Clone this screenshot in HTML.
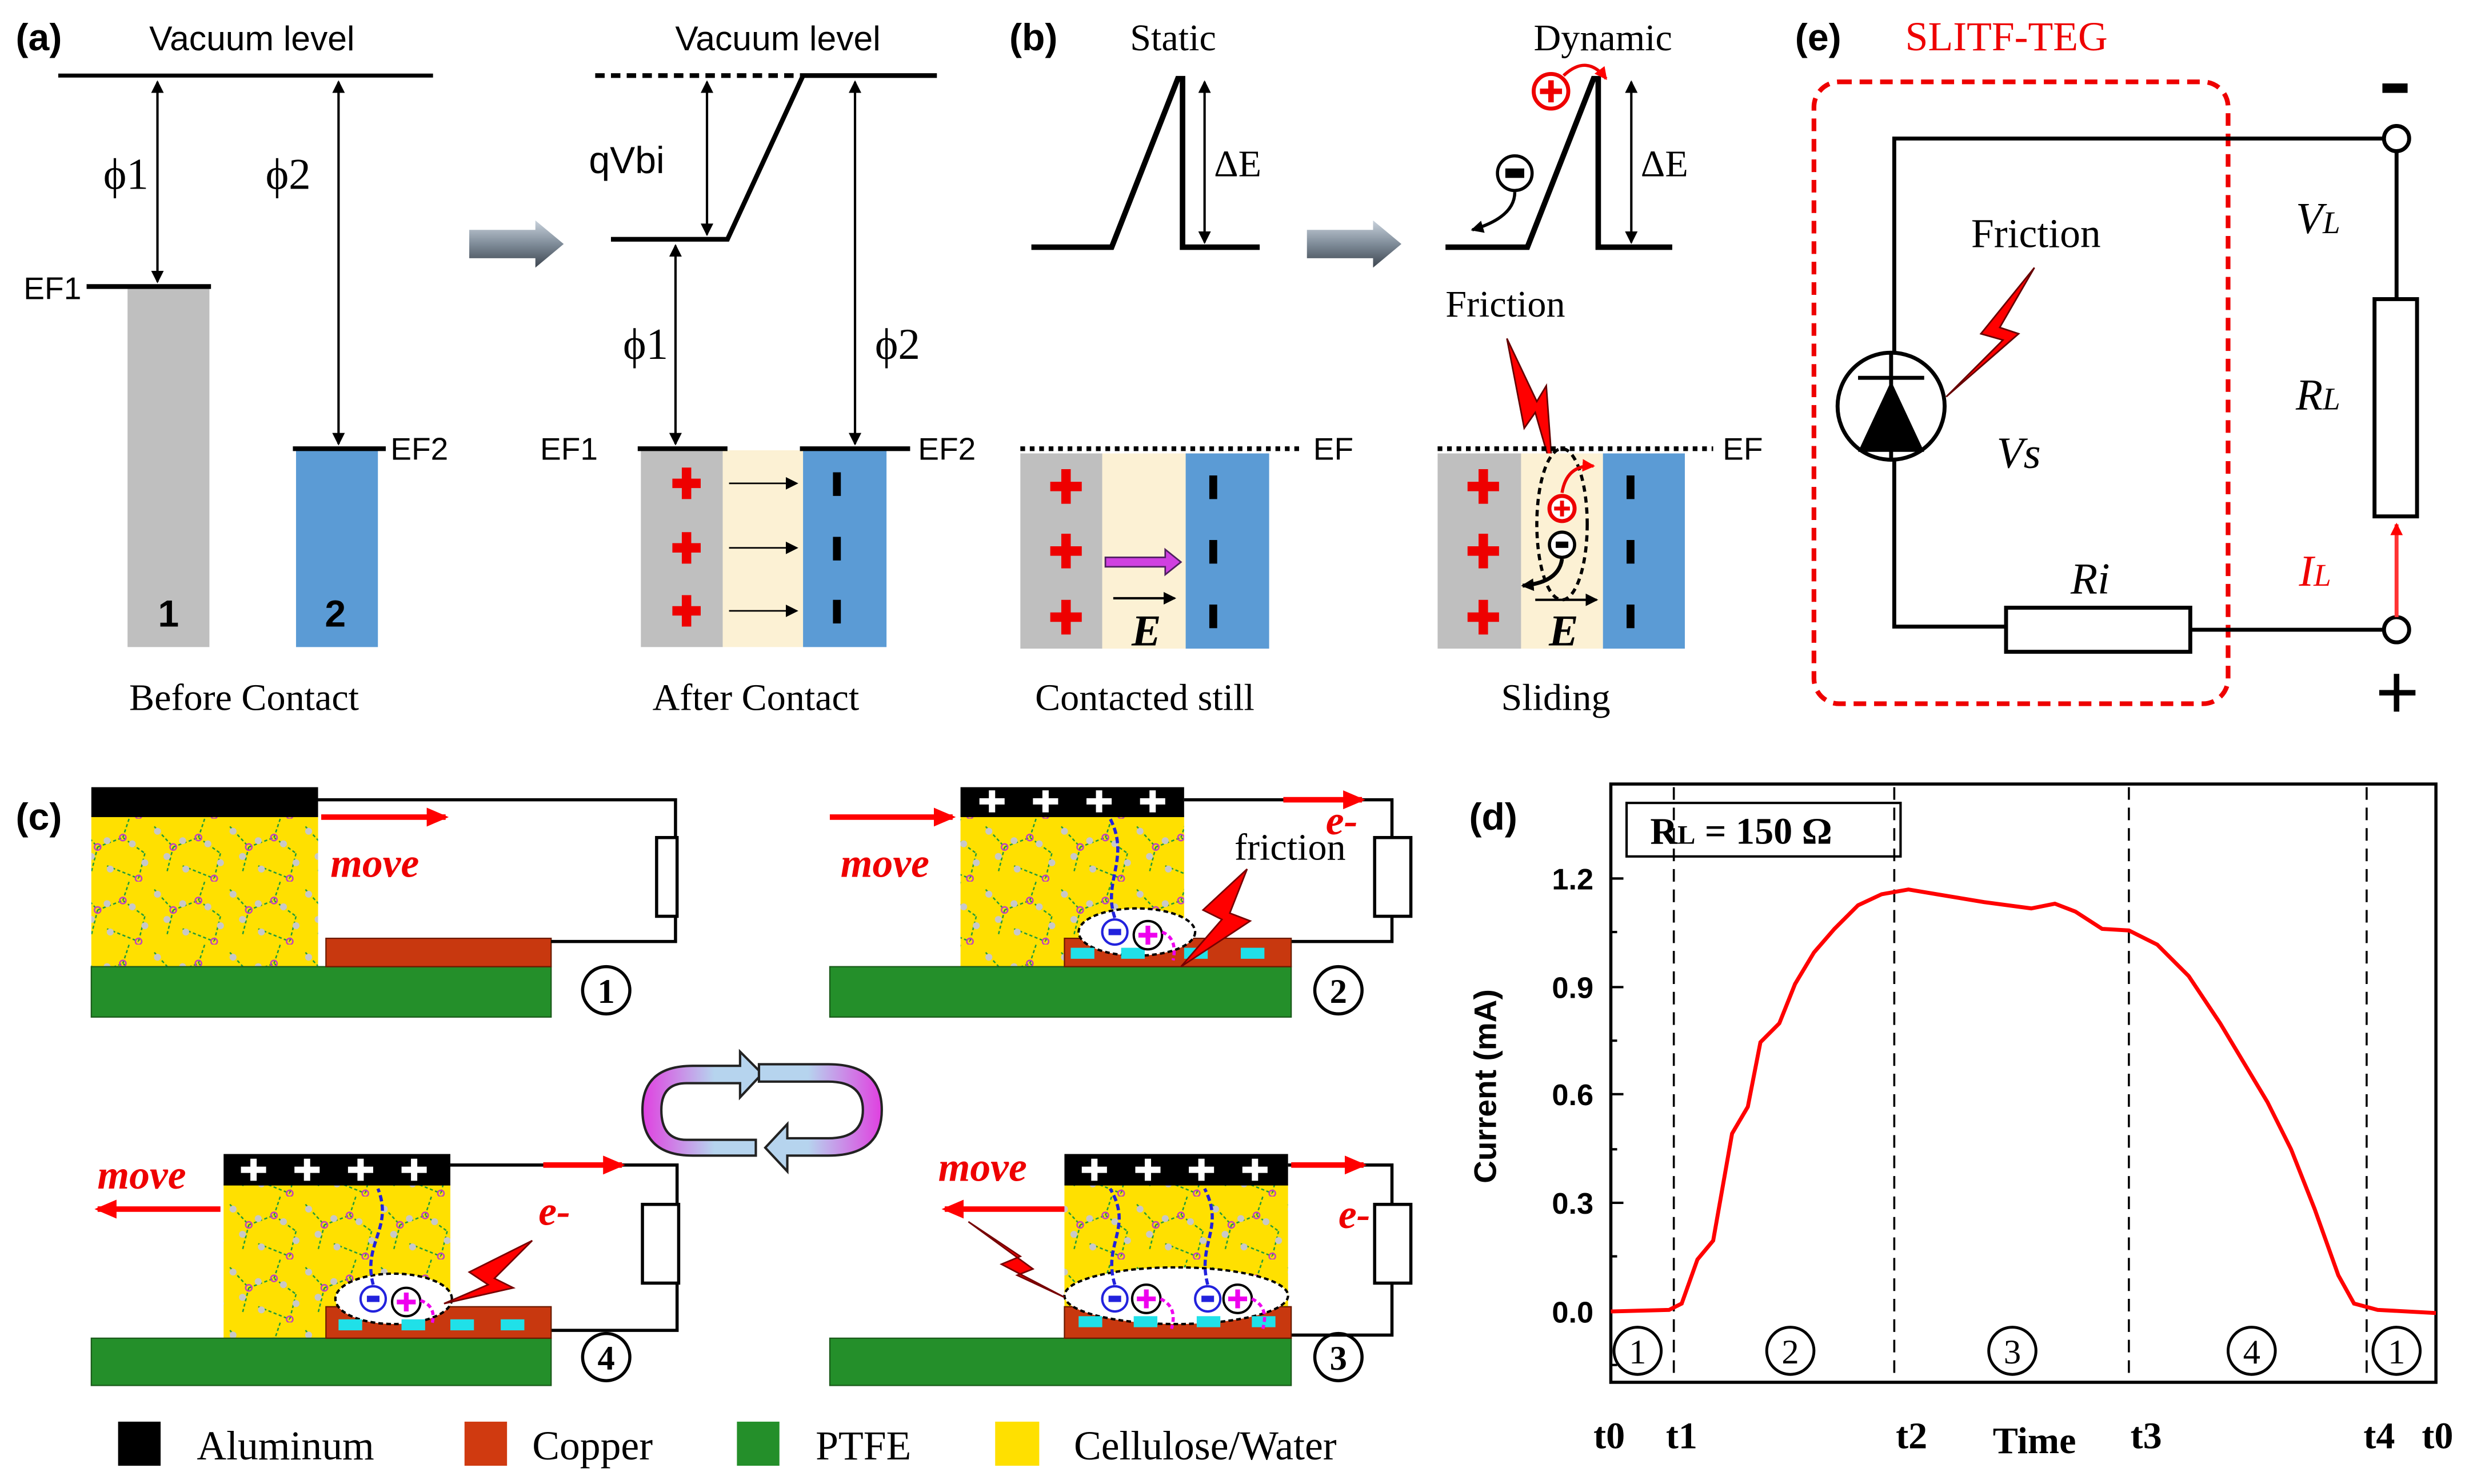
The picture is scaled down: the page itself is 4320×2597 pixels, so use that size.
<!DOCTYPE html>
<html><head><meta charset="utf-8"><style>html,body{margin:0;padding:0;background:#fff}svg{display:block}</style></head><body>
<svg xmlns="http://www.w3.org/2000/svg" width="4320" height="2597" viewBox="0 0 1568 942.6" preserveAspectRatio="none">
<defs>
<marker id="ah" markerWidth="8" markerHeight="8" refX="7" refY="4" orient="auto-start-reverse" markerUnits="userSpaceOnUse"><path d="M0,0L8,4L0,8z" fill="#000"/></marker>
<marker id="ahr" markerWidth="14" markerHeight="12" refX="12" refY="6" orient="auto" markerUnits="userSpaceOnUse"><path d="M0,0L14,6L0,12z" fill="#f00"/></marker>
<marker id="ahs" markerWidth="8" markerHeight="8" refX="7" refY="4" orient="auto" markerUnits="userSpaceOnUse"><path d="M0,0L8,4L0,8z" fill="#f00"/></marker>
<linearGradient id="ga" x1="0" y1="0" x2="0" y2="1"><stop offset="0" stop-color="#c9d2dc"/><stop offset="0.5" stop-color="#7f8c99"/><stop offset="1" stop-color="#3e4650"/></linearGradient>
<linearGradient id="gc" x1="0" y1="0" x2="1" y2="0"><stop offset="0" stop-color="#e040e0"/><stop offset="0.6" stop-color="#b6d4ee"/><stop offset="1" stop-color="#b6d4ee"/></linearGradient>
<linearGradient id="gc2" x1="1" y1="0" x2="0" y2="0"><stop offset="0" stop-color="#e040e0"/><stop offset="0.6" stop-color="#b6d4ee"/><stop offset="1" stop-color="#b6d4ee"/></linearGradient>
<pattern id="mol" width="48" height="40" patternUnits="userSpaceOnUse">
<rect width="48" height="40" fill="#ffe000"/>
<path d="M2,5 L14,18 L10,34 M14,18 L30,12 L44,22 M30,12 L34,0 M44,22 L40,38 M20,30 L40,38" fill="none" stroke="#1a9a3a" stroke-width="0.9" stroke-dasharray="2,1.5"/>
<circle cx="14" cy="18" r="2" fill="none" stroke="#c040c0" stroke-width="0.9"/><circle cx="30" cy="12" r="2" fill="none" stroke="#c040c0" stroke-width="0.9"/><circle cx="40" cy="38" r="2" fill="none" stroke="#c040c0" stroke-width="0.9"/>
<circle cx="10" cy="24" r="2.2" fill="#c8c8c8"/><circle cx="20" cy="14" r="2.2" fill="#c8c8c8"/><circle cx="36" cy="16" r="2.2" fill="#c8c8c8"/><circle cx="44" cy="28" r="2.2" fill="#c8c8c8"/><circle cx="22" cy="32" r="2.2" fill="#c8c8c8"/><circle cx="4" cy="8" r="2.2" fill="#c8c8c8"/>
</pattern>
</defs>
<g font-family="Liberation Serif, serif" fill="#000">
<!-- (a) -->
<text x="10" y="32" font-family="Liberation Sans, sans-serif" font-weight="bold" font-size="24">(a)</text>
<text x="160" y="32" font-family="Liberation Sans, sans-serif" font-size="22" text-anchor="middle">Vacuum level</text>
<line x1="37" y1="48" x2="275" y2="48" stroke="#000" stroke-width="2.5"/>
<line x1="100" y1="52" x2="100" y2="179" stroke="#000" stroke-width="1.5" marker-start="url(#ah)" marker-end="url(#ah)"/>
<line x1="215" y1="52" x2="215" y2="282" stroke="#000" stroke-width="1.5" marker-start="url(#ah)" marker-end="url(#ah)"/>
<text x="80" y="120" font-size="28" text-anchor="middle">ϕ1</text>
<text x="183" y="120" font-size="28" text-anchor="middle">ϕ2</text>
<rect x="81" y="183" width="52" height="228" fill="#bfbfbf"/>
<rect x="188" y="285" width="52" height="126" fill="#5b9bd5"/>
<line x1="55" y1="182" x2="134" y2="182" stroke="#000" stroke-width="3"/>
<line x1="186" y1="285" x2="245" y2="285" stroke="#000" stroke-width="3"/>
<g font-family="Liberation Sans, sans-serif" font-size="20">
<text x="15" y="190">EF1</text><text x="248" y="292">EF2</text>
<text x="343" y="292">EF1</text><text x="583" y="292">EF2</text>
<text x="834" y="292">EF</text><text x="1094" y="292">EF</text>
</g>
<text x="107" y="398" font-family="Liberation Sans, sans-serif" font-weight="bold" font-size="24" text-anchor="middle">1</text>
<text x="213" y="398" font-family="Liberation Sans, sans-serif" font-weight="bold" font-size="24" text-anchor="middle">2</text>
<text x="155" y="451" font-size="24" text-anchor="middle">Before Contact</text>
<path d="M298,146 L340,146 L340,140 L358,155 L340,170 L340,164 L298,164 Z" fill="url(#ga)"/>
<path d="M830,146 L872,146 L872,140 L890,155 L872,170 L872,164 L830,164 Z" fill="url(#ga)"/>
<!-- after contact -->
<text x="494" y="32" font-family="Liberation Sans, sans-serif" font-size="22" text-anchor="middle">Vacuum level</text>
<line x1="378" y1="48" x2="508" y2="48" stroke="#000" stroke-width="3" stroke-dasharray="6,4"/>
<line x1="508" y1="48" x2="595" y2="48" stroke="#000" stroke-width="3"/>
<polyline points="388,152 462,152 510,48" fill="none" stroke="#000" stroke-width="3"/>
<text x="374" y="110" font-family="Liberation Sans, sans-serif" font-size="24">qVbi</text>
<line x1="449" y1="52" x2="449" y2="149" stroke="#000" stroke-width="1.5" marker-start="url(#ah)" marker-end="url(#ah)"/>
<line x1="429" y1="156" x2="429" y2="282" stroke="#000" stroke-width="1.5" marker-start="url(#ah)" marker-end="url(#ah)"/>
<line x1="543" y1="52" x2="543" y2="282" stroke="#000" stroke-width="1.5" marker-start="url(#ah)" marker-end="url(#ah)"/>
<text x="410" y="228" font-size="28" text-anchor="middle">ϕ1</text>
<text x="570" y="228" font-size="28" text-anchor="middle">ϕ2</text>
<rect x="407" y="286" width="52" height="125" fill="#bfbfbf"/>
<rect x="459" y="286" width="51" height="125" fill="#fcf1d4"/>
<rect x="510" y="286" width="53" height="125" fill="#5b9bd5"/>
<line x1="405" y1="285" x2="462" y2="285" stroke="#000" stroke-width="3"/>
<line x1="508" y1="285" x2="578" y2="285" stroke="#000" stroke-width="3"/>
<g fill="#e00">
<path d="M427,304h18v6h-18zM433,297h6v20h-6z"/><path d="M427,345h18v6h-18zM433,338h6v20h-6z"/><path d="M427,385h18v6h-18zM433,378h6v20h-6z"/>
</g>
<rect x="529" y="300" width="5" height="15" fill="#000"/><rect x="529" y="341" width="5" height="15" fill="#000"/><rect x="529" y="381" width="5" height="15" fill="#000"/>
<g stroke="#000" stroke-width="1" marker-end="url(#ah)"><line x1="463" y1="307" x2="506" y2="307"/><line x1="463" y1="348" x2="506" y2="348"/><line x1="463" y1="388" x2="506" y2="388"/></g>
<text x="480" y="451" font-size="24" text-anchor="middle">After Contact</text>
<!-- (b) -->
<text x="641" y="32" font-family="Liberation Sans, sans-serif" font-weight="bold" font-size="24">(b)</text>
<text x="745" y="32" font-size="24" text-anchor="middle">Static</text>
<polyline points="655,157 706,157 748,50 751,50 751,157 800,157" fill="none" stroke="#000" stroke-width="3.5"/>
<line x1="765" y1="52" x2="765" y2="154" stroke="#000" stroke-width="1.5" marker-start="url(#ah)" marker-end="url(#ah)"/>
<text x="771" y="112" font-size="24">ΔE</text>
<line x1="648" y1="285" x2="826" y2="285" stroke="#000" stroke-width="3" stroke-dasharray="3,3"/>
<rect x="648" y="288" width="52" height="124" fill="#bfbfbf"/>
<rect x="700" y="288" width="53" height="124" fill="#fcf1d4"/>
<rect x="753" y="288" width="53" height="124" fill="#5b9bd5"/>
<g fill="#e00">
<path d="M667,306h20v6h-20zM674,298h6v22h-6z"/><path d="M667,347h20v6h-20zM674,339h6v22h-6z"/><path d="M667,389h20v6h-20zM674,381h6v22h-6z"/>
</g>
<rect x="768" y="302" width="5" height="15" fill="#000"/><rect x="768" y="343" width="5" height="15" fill="#000"/><rect x="768" y="384" width="5" height="15" fill="#000"/>
<path d="M702,354h38v-5l10,8l-10,8v-5h-38z" fill="#d040e0" stroke="#502060" stroke-width="1"/>
<line x1="707" y1="380" x2="746" y2="380" stroke="#000" stroke-width="1.5" marker-end="url(#ah)"/>
<text x="728" y="410" font-size="28" font-weight="bold" font-style="italic" text-anchor="middle">E</text>
<text x="727" y="451" font-size="24" text-anchor="middle">Contacted still</text>
<!-- dynamic -->
<text x="1018" y="32" font-size="24" text-anchor="middle">Dynamic</text>
<polyline points="918,157 970,157 1012,50 1015,50 1015,157 1062,157" fill="none" stroke="#000" stroke-width="3.5"/>
<line x1="1036" y1="52" x2="1036" y2="154" stroke="#000" stroke-width="1.5" marker-start="url(#ah)" marker-end="url(#ah)"/>
<text x="1042" y="112" font-size="24">ΔE</text>
<circle cx="985" cy="58" r="11" fill="none" stroke="#e00" stroke-width="2.5"/><path d="M978,58h14M985,51v14" stroke="#e00" stroke-width="3.5"/>
<path d="M993,48 Q1008,34 1020,50" fill="none" stroke="#e00" stroke-width="2" marker-end="url(#ahs)"/>
<circle cx="962" cy="110" r="11" fill="none" stroke="#000" stroke-width="2"/><rect x="956" y="107" width="12" height="6" fill="#000"/>
<path d="M962,122 Q962,138 935,146" fill="none" stroke="#000" stroke-width="2" marker-end="url(#ah)"/>
<text x="956" y="201" font-size="24" text-anchor="middle">Friction</text>
<path d="M957,215 L968,272 L975,262 L986,300 L982,245 L976,255 Z" fill="#f00" stroke="#600" stroke-width="1"/>
<line x1="913" y1="285" x2="1088" y2="285" stroke="#000" stroke-width="3" stroke-dasharray="3,3"/>
<rect x="913" y="288" width="53" height="124" fill="#bfbfbf"/>
<rect x="966" y="288" width="52" height="124" fill="#fcf1d4"/>
<rect x="1018" y="288" width="52" height="124" fill="#5b9bd5"/>
<g fill="#e00">
<path d="M932,306h20v6h-20zM939,298h6v22h-6z"/><path d="M932,347h20v6h-20zM939,339h6v22h-6z"/><path d="M932,389h20v6h-20zM939,381h6v22h-6z"/>
</g>
<rect x="1033" y="302" width="5" height="15" fill="#000"/><rect x="1033" y="343" width="5" height="15" fill="#000"/><rect x="1033" y="384" width="5" height="15" fill="#000"/>
<ellipse cx="992" cy="333" rx="16" ry="48" fill="none" stroke="#000" stroke-width="2" stroke-dasharray="4,3"/>
<circle cx="992" cy="323" r="8" fill="#fff" stroke="#e00" stroke-width="2.5"/><path d="M987,323h10M992,318v10" stroke="#e00" stroke-width="2.5"/>
<path d="M992,313 Q995,295 1012,296" fill="none" stroke="#e00" stroke-width="2" marker-end="url(#ahs)"/>
<circle cx="992" cy="346" r="8" fill="#fff" stroke="#000" stroke-width="2"/><rect x="988" y="344" width="8" height="4" fill="#000"/>
<path d="M992,355 Q990,370 967,372" fill="none" stroke="#000" stroke-width="2.5" marker-end="url(#ah)"/>
<line x1="975" y1="381" x2="1014" y2="381" stroke="#000" stroke-width="1.5" marker-end="url(#ah)"/>
<text x="993" y="410" font-size="28" font-weight="bold" font-style="italic" text-anchor="middle">E</text>
<text x="988" y="451" font-size="24" text-anchor="middle">Sliding</text>
<!-- (e) -->
<text x="1140" y="32" font-family="Liberation Sans, sans-serif" font-weight="bold" font-size="24">(e)</text>
<text x="1210" y="32" font-size="26" fill="#e00">SLITF-TEG</text>
<rect x="1152" y="52" width="263" height="395" rx="16" fill="none" stroke="#e00" stroke-width="3" stroke-dasharray="8,5"/>
<g stroke="#000" stroke-width="2.5" fill="none">
<polyline points="1514,88 1203,88 1203,398 1274,398"/>
<rect x="1274" y="386" width="117" height="28" fill="#fff"/>
<line x1="1391" y1="400" x2="1514" y2="400"/>
<line x1="1522" y1="96" x2="1522" y2="190"/>
<rect x="1508" y="190" width="27" height="138" fill="#fff"/>
<circle cx="1522" cy="88" r="8" fill="#fff"/>
<circle cx="1522" cy="400" r="8" fill="#fff"/>
<circle cx="1201" cy="258" r="34" fill="#fff"/>
<line x1="1180" y1="240" x2="1222" y2="240"/>
<line x1="1201" y1="224" x2="1201" y2="292"/>
</g>
<path d="M1201,242 L1222,287 L1180,287 Z" fill="#000"/>
<line x1="1522" y1="392" x2="1522" y2="333" stroke="#f33" stroke-width="2.5" marker-end="url(#ahs)"/>
<path d="M1292,170 L1258,212 L1272,216 L1236,252 L1282,212 L1270,208 Z" fill="#f00" stroke="#600" stroke-width="1"/>
<text x="1293" y="157" font-size="26" text-anchor="middle">Friction</text>
<g font-style="italic" font-size="28">
<text x="1268" y="297">Vs</text>
<text x="1458" y="148">V<tspan font-size="20">L</tspan></text>
<text x="1458" y="260">R<tspan font-size="20">L</tspan></text>
<text x="1460" y="372" fill="#e00">I<tspan font-size="20">L</tspan></text>
<text x="1315" y="377">Ri</text>
</g>
<rect x="1513" y="53" width="16" height="6" fill="#000"/>
<path d="M1511,440h23M1522,428v24" stroke="#000" stroke-width="3.5"/>
<!-- (c) -->
<text x="10" y="527" font-family="Liberation Sans, sans-serif" font-weight="bold" font-size="24">(c)</text>
<rect x="58" y="518" width="144" height="96" fill="url(#mol)"/>
<rect x="58" y="500" width="144" height="19" fill="#000"/>
<rect x="58" y="614" width="292" height="32" fill="#248f2a" stroke="#1a5a1a" stroke-width="0.8"/>
<rect x="207" y="596" width="143" height="18" fill="#c8380f" stroke="#6a1a00" stroke-width="0.8"/>
<g stroke="#000" stroke-width="2" fill="none">
<polyline points="202,508 429,508 429,532"/><rect x="417" y="532" width="13" height="50" fill="#fff"/><polyline points="429,582 429,598 350,598"/>
<polyline points="752,508 884,508 884,532"/><rect x="873" y="532" width="23" height="50" fill="#fff"/><polyline points="884,582 884,598 820,598"/>
<polyline points="286,740 430,740 430,765"/><rect x="408" y="765" width="23" height="50" fill="#fff"/><polyline points="430,815 430,845 350,845"/>
<polyline points="818,740 884,740 884,765"/><rect x="873" y="765" width="23" height="50" fill="#fff"/><polyline points="884,815 884,848 820,848"/>
</g>
<line x1="204" y1="519" x2="283" y2="519" stroke="#f00" stroke-width="3.5" marker-end="url(#ahr)"/>
<g font-size="26" font-style="italic" font-weight="bold" fill="#e00">
<text x="238" y="557" text-anchor="middle">move</text>
<text x="562" y="557" text-anchor="middle">move</text>
<text x="90" y="755" text-anchor="middle">move</text>
<text x="624" y="750" text-anchor="middle">move</text>
<text x="842" y="530">e-</text><text x="342" y="778">e-</text><text x="850" y="780">e-</text>
</g>
<!-- panel 2 -->
<rect x="610" y="518" width="142" height="96" fill="url(#mol)"/>
<rect x="610" y="500" width="142" height="19" fill="#000"/>
<rect x="527" y="614" width="293" height="32" fill="#248f2a" stroke="#1a5a1a" stroke-width="0.8"/>
<rect x="676" y="596" width="144" height="18" fill="#c8380f" stroke="#6a1a00" stroke-width="0.8"/>
<line x1="527" y1="519" x2="605" y2="519" stroke="#f00" stroke-width="3.5" marker-end="url(#ahr)"/>
<line x1="815" y1="508" x2="865" y2="508" stroke="#f00" stroke-width="3.5" marker-end="url(#ahr)"/>
<text x="784" y="546" font-size="24">friction</text>
<ellipse cx="722" cy="592" rx="37" ry="15" fill="#fff" stroke="#000" stroke-width="1.5" stroke-dasharray="3,2"/>
<!-- panel 4 -->
<rect x="142" y="752" width="144" height="98" fill="url(#mol)"/>
<rect x="142" y="733" width="144" height="20" fill="#000"/>
<rect x="58" y="850" width="292" height="30" fill="#248f2a" stroke="#1a5a1a" stroke-width="0.8"/>
<rect x="207" y="830" width="143" height="20" fill="#c8380f" stroke="#6a1a00" stroke-width="0.8"/>
<line x1="140" y1="768" x2="62" y2="768" stroke="#f00" stroke-width="3.5" marker-end="url(#ahr)"/>
<line x1="345" y1="740" x2="395" y2="740" stroke="#f00" stroke-width="3.5" marker-end="url(#ahr)"/>
<ellipse cx="250" cy="825" rx="37" ry="16" fill="#fff" stroke="#000" stroke-width="1.5" stroke-dasharray="3,2"/>
<!-- panel 3 -->
<rect x="676" y="752" width="142" height="98" fill="url(#mol)"/>
<rect x="676" y="733" width="142" height="20" fill="#000"/>
<rect x="527" y="850" width="293" height="30" fill="#248f2a" stroke="#1a5a1a" stroke-width="0.8"/>
<rect x="676" y="830" width="144" height="20" fill="#c8380f" stroke="#6a1a00" stroke-width="0.8"/>
<line x1="676" y1="768" x2="600" y2="768" stroke="#f00" stroke-width="3.5" marker-end="url(#ahr)"/>
<line x1="820" y1="740" x2="866" y2="740" stroke="#f00" stroke-width="3.5" marker-end="url(#ahr)"/>
<ellipse cx="747" cy="823" rx="71" ry="18" fill="#fff" stroke="#000" stroke-width="1.5" stroke-dasharray="3,2"/>
<g fill="#fff">
<path d="M622,507h16v4h-16zM628,502h4v14h-4z"/><path d="M656,507h16v4h-16zM662,502h4v14h-4z"/><path d="M690,507h16v4h-16zM696,502h4v14h-4z"/><path d="M724,507h16v4h-16zM730,502h4v14h-4z"/>
<path d="M153,741h16v4h-16zM159,736h4v14h-4z"/><path d="M187,741h16v4h-16zM193,736h4v14h-4z"/><path d="M221,741h16v4h-16zM227,736h4v14h-4z"/><path d="M255,741h16v4h-16zM261,736h4v14h-4z"/>
<path d="M687,741h16v4h-16zM693,736h4v14h-4z"/><path d="M721,741h16v4h-16zM727,736h4v14h-4z"/><path d="M755,741h16v4h-16zM761,736h4v14h-4z"/><path d="M789,741h16v4h-16zM795,736h4v14h-4z"/>
</g>
<g fill="#20e0e8">
<rect x="680" y="602" width="15" height="7"/><rect x="712" y="602" width="15" height="7"/><rect x="752" y="602" width="15" height="7"/><rect x="788" y="602" width="15" height="7"/>
<rect x="215" y="838" width="15" height="7"/><rect x="255" y="838" width="15" height="7"/><rect x="286" y="838" width="15" height="7"/><rect x="318" y="838" width="15" height="7"/>
<rect x="685" y="836" width="15" height="7"/><rect x="720" y="836" width="15" height="7"/><rect x="760" y="836" width="15" height="7"/><rect x="795" y="836" width="15" height="7"/>
</g>
<g stroke-width="1.5">
<circle cx="708" cy="592" r="8" fill="#fff" stroke="#22d"/><rect x="704" y="590" width="8" height="4" fill="#22d"/>
<circle cx="729" cy="594" r="9" fill="#fff" stroke="#000"/><path d="M723,594h12M729,588v12" stroke="#e0e" stroke-width="3"/>
<circle cx="237" cy="825" r="8" fill="#fff" stroke="#22d"/><rect x="233" y="823" width="8" height="4" fill="#22d"/>
<circle cx="258" cy="827" r="9" fill="#fff" stroke="#000"/><path d="M252,827h12M258,821v12" stroke="#e0e" stroke-width="3"/>
<circle cx="708" cy="825" r="8" fill="#fff" stroke="#22d"/><rect x="704" y="823" width="8" height="4" fill="#22d"/>
<circle cx="728" cy="825" r="9" fill="#fff" stroke="#000"/><path d="M722,825h12M728,819v12" stroke="#e0e" stroke-width="3"/>
<circle cx="767" cy="825" r="8" fill="#fff" stroke="#22d"/><rect x="763" y="823" width="8" height="4" fill="#22d"/>
<circle cx="786" cy="825" r="9" fill="#fff" stroke="#000"/><path d="M780,825h12M786,819v12" stroke="#e0e" stroke-width="3"/>
</g>
<g fill="none" stroke="#e0e" stroke-width="2" stroke-dasharray="3,2">
<path d="M738,592 Q748,596 745,610"/><path d="M267,826 Q278,830 274,842"/><path d="M737,825 Q748,830 744,844"/><path d="M795,825 Q806,830 802,844"/>
</g>
<g fill="none" stroke="#22d" stroke-width="2" stroke-dasharray="4,2">
<path d="M708,583 C700,560 718,545 705,520"/><path d="M237,816 C230,790 250,780 240,755"/><path d="M708,816 C700,790 720,780 705,755"/><path d="M767,816 C760,790 778,780 765,755"/>
</g>
<g fill="#f00" stroke="#700" stroke-width="1">
<path d="M792,552 L764,578 L776,584 L750,614 L794,585 L781,580 Z"/>
<path d="M338,788 L298,808 L310,816 L282,828 L326,818 L314,812 Z"/>
<path d="M615,776 L648,798 L636,803 L676,824 L646,810 L656,806 Z"/>
</g>
<g fill="none" stroke="#000" stroke-width="2">
<circle cx="385" cy="629" r="15"/><circle cx="850" cy="629" r="15"/><circle cx="385" cy="862" r="15"/><circle cx="850" cy="862" r="15"/>
</g>
<g font-size="22" font-weight="bold" text-anchor="middle">
<text x="385" y="637">1</text><text x="850" y="637">2</text><text x="385" y="870">4</text><text x="850" y="870">3</text>
</g>
<!-- cycle arrows -->
<path d="M470,677 L440,677 Q408,677 408,705 Q408,734 440,734 L480,734 L480,724 L436,724 Q420,724 420,705 Q420,688 436,688 L470,688 L470,697 L484,682 L470,668 Z" fill="url(#gc)" stroke="#222" stroke-width="1.5"/>
<path d="M482,676 L526,676 Q560,676 560,705 Q560,734 526,734 L500,734 L500,744 L486,729 L500,714 L500,723 L526,723 Q548,723 548,705 Q548,687 526,687 L482,687 Z" fill="url(#gc2)" stroke="#222" stroke-width="1.5"/>
<!-- legend -->
<rect x="75" y="903" width="27" height="28" fill="#000"/>
<rect x="295" y="903" width="27" height="28" fill="#d03a10"/>
<rect x="468" y="903" width="27" height="28" fill="#248f2a"/>
<rect x="632" y="903" width="28" height="28" fill="#ffe000"/>
<g font-size="26"><text x="125" y="927">Aluminum</text><text x="338" y="927">Copper</text><text x="518" y="927">PTFE</text><text x="682" y="927">Cellulose/Water</text></g>
<!-- (d) -->
<text x="933" y="527" font-family="Liberation Sans, sans-serif" font-weight="bold" font-size="24">(d)</text>
<rect x="1023" y="498" width="524" height="380" fill="none" stroke="#000" stroke-width="2"/>
<rect x="1033" y="510" width="174" height="34" fill="#fff" stroke="#000" stroke-width="1.5"/>
<text x="1048" y="536" font-size="24" font-weight="bold">R<tspan font-size="17">L</tspan> = 150 Ω</text>
<g stroke="#000" stroke-width="1.5">
<line x1="1023" y1="558" x2="1031" y2="558"/><line x1="1023" y1="627" x2="1031" y2="627"/><line x1="1023" y1="695" x2="1031" y2="695"/><line x1="1023" y1="764" x2="1031" y2="764"/><line x1="1023" y1="833" x2="1031" y2="833"/>
<line x1="1023" y1="592" x2="1027" y2="592"/><line x1="1023" y1="661" x2="1027" y2="661"/><line x1="1023" y1="730" x2="1027" y2="730"/><line x1="1023" y1="798" x2="1027" y2="798"/><line x1="1023" y1="867" x2="1027" y2="867"/>
</g>
<g stroke="#000" stroke-width="1.3" stroke-dasharray="8,5">
<line x1="1063" y1="500" x2="1063" y2="876"/><line x1="1203" y1="500" x2="1203" y2="876"/><line x1="1352" y1="500" x2="1352" y2="876"/><line x1="1503" y1="500" x2="1503" y2="876"/>
</g>
<g font-family="Liberation Sans, sans-serif" font-weight="bold" font-size="19" text-anchor="end">
<text x="1012" y="565">1.2</text><text x="1012" y="634">0.9</text><text x="1012" y="702">0.6</text><text x="1012" y="771">0.3</text><text x="1012" y="840">0.0</text>
</g>
<text x="0" y="0" transform="translate(950,690) rotate(-90)" font-family="Liberation Sans, sans-serif" font-weight="bold" font-size="20" text-anchor="middle">Current (mA)</text>
<polyline fill="none" stroke="#f00" stroke-width="2.5" points="1023,833 1060,832 1068,828 1078,800 1088,788 1100,720 1110,703 1118,662 1130,650 1140,625 1152,605 1165,590 1180,575 1195,568 1212,565 1230,568 1260,573 1290,577 1305,574 1318,579 1335,590 1352,591 1370,600 1390,620 1410,650 1425,675 1440,700 1455,730 1470,768 1485,810 1495,828 1510,832 1547,834"/>
<g fill="none" stroke="#000" stroke-width="1.8">
<circle cx="1040" cy="858" r="15"/><circle cx="1137" cy="858" r="15"/><circle cx="1278" cy="858" r="15"/><circle cx="1430" cy="858" r="15"/><circle cx="1522" cy="858" r="15"/>
</g>
<g font-size="22" text-anchor="middle">
<text x="1040" y="866">1</text><text x="1137" y="866">2</text><text x="1278" y="866">3</text><text x="1430" y="866">4</text><text x="1522" y="866">1</text>
</g>
<g font-size="24" font-weight="bold" text-anchor="middle">
<text x="1022" y="920">t0</text><text x="1068" y="920">t1</text><text x="1214" y="920">t2</text><text x="1292" y="923">Time</text><text x="1363" y="920">t3</text><text x="1511" y="920">t4</text><text x="1548" y="920">t0</text>
</g>
</g>
</svg>
</body></html>
